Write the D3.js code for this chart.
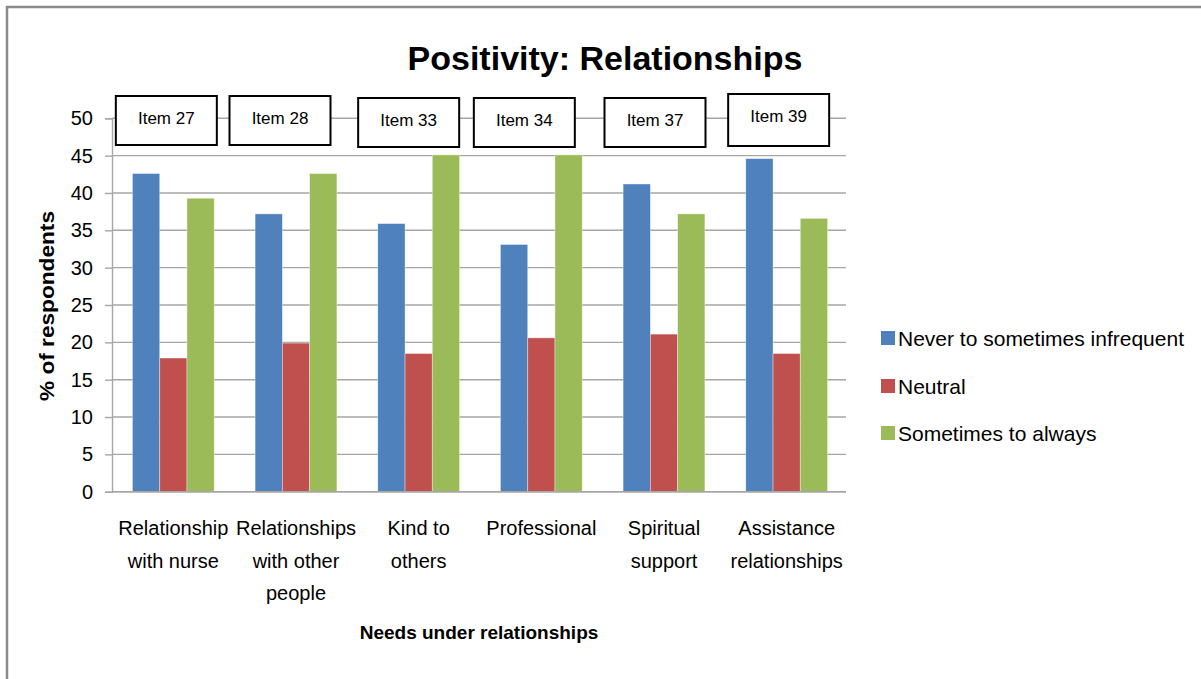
<!DOCTYPE html>
<html>
<head>
<meta charset="utf-8">
<script src="https://cdn.jsdelivr.net/npm/d3@7"></script>
<style>
  html, body { margin: 0; padding: 0; background: #fff; }
  svg { display: block; }
  text { font-family: "Liberation Sans", Arial, sans-serif; fill: #000; }
</style>
</head>
<body>
<svg id="chart" width="1201" height="679"></svg>
<script>
// ---------------- DATA ----------------
const categories = [
  "Relationship with nurse",
  "Relationships with other people",
  "Kind to others",
  "Professional",
  "Spiritual support",
  "Assistance relationships"
];
const categoryLines = [
  ["Relationship", "with nurse"],
  ["Relationships", "with other", "people"],
  ["Kind to", "others"],
  ["Professional"],
  ["Spiritual", "support"],
  ["Assistance", "relationships"]
];
const seriesNames = ["Never to sometimes infrequent", "Neutral", "Sometimes to always"];
const neverValues     = [42.6, 37.2, 35.9, 33.1, 41.2, 44.6];
const neutralValues   = [17.9, 19.9, 18.5, 20.6, 21.1, 18.5];
const sometimesValues = [39.3, 42.6, 45.1, 45.1, 37.2, 36.6];
const itemLabels = ["Item 27", "Item 28", "Item 33", "Item 34", "Item 37", "Item 39"];
const yTicks = [0, 5, 10, 15, 20, 25, 30, 35, 40, 45, 50];
const titleText = "Positivity: Relationships";
const yTitle = "% of respondents";
const xTitle = "Needs under relationships";

// ---------------- LAYOUT / STYLE ----------------
const colors = ["#4F81BD", "#C0504D", "#9BBB59"];
const plot = { left: 112, right: 848, top: 118.3, bottom: 491.7 };
const itemBoxDx  = [-7, -16, -10, -17, -9, -8];
const itemBoxTop = [96, 96, 98, 98, 98, 94];
const itemBoxH   = [49, 49, 49, 49, 49, 52];
const itemBoxW = 101;

const svg = d3.select("#chart");
svg.append("rect").attr("width", 1201).attr("height", 679).attr("fill", "#fff");

// outer border (top and left visible)
svg.append("path")
  .attr("d", "M7,679 L7,7 L1201,7")
  .attr("fill", "none").attr("stroke", "#8a8a8a").attr("stroke-width", 2.5);

const x0 = d3.scaleBand().domain(categories).range([plot.left, plot.right]).paddingInner(0).paddingOuter(0);
const bw = x0.bandwidth() / 4.5;
const x1 = d3.scaleBand().domain(seriesNames).range([0, bw * 3]).padding(0);
const groupOffset = (x0.bandwidth() - bw * 3) / 2;
const y = d3.scaleLinear().domain([0, 50]).range([plot.bottom, plot.top]);

// gridlines
svg.append("g").selectAll("line").data(yTicks).join("line")
  .attr("x1", plot.left).attr("x2", plot.right - 2)
  .attr("y1", d => y(d)).attr("y2", d => y(d))
  .attr("stroke", "#a6a6a6").attr("stroke-width", 1.4);

// y axis
const yAxis = d3.axisLeft(y).tickValues(yTicks).tickSize(7).tickPadding(12).tickFormat(d3.format("d"));
const gy = svg.append("g").attr("transform", `translate(${plot.left},0)`).call(yAxis);
gy.select(".domain").attr("stroke", "#a6a6a6").attr("stroke-width", 1.4);
gy.selectAll(".tick line").attr("stroke", "#a6a6a6").attr("stroke-width", 1.4);
gy.selectAll(".tick text").attr("font-size", 20).attr("font-family", "Liberation Sans, Arial, sans-serif").attr("fill", "#000");

// bars
const seriesValues = [neverValues, neutralValues, sometimesValues];
const barData = [];
categories.forEach((c, i) => {
  seriesNames.forEach((s, j) => {
    barData.push({ cat: c, series: s, value: seriesValues[j][i], color: colors[j] });
  });
});
svg.append("g").selectAll("rect").data(barData).join("rect")
  .attr("x", d => x0(d.cat) + groupOffset + x1(d.series))
  .attr("width", x1.bandwidth())
  .attr("y", d => y(d.value))
  .attr("height", d => y(0) - y(d.value))
  .attr("fill", d => d.color)
  .attr("stroke", "rgba(255,255,255,0.45)").attr("stroke-width", 0.8);

// redraw zero line on top
svg.append("line").attr("x1", plot.left).attr("x2", plot.right - 2)
  .attr("y1", y(0)).attr("y2", y(0)).attr("stroke", "#a6a6a6").attr("stroke-width", 1.4);

// category labels
const catG = svg.append("g");
categories.forEach((c, i) => {
  const cx = x0(c) + x0.bandwidth() / 2;
  const t = catG.append("text").attr("text-anchor", "middle").attr("font-size", 20);
  categoryLines[i].forEach((ln, k) => {
    t.append("tspan").attr("x", cx).attr("y", 535 + k * 32.5).text(ln);
  });
});

// item boxes
const boxG = svg.append("g");
categories.forEach((c, i) => {
  const cx = x0(c) + x0.bandwidth() / 2 + itemBoxDx[i];
  boxG.append("rect")
    .attr("x", cx - itemBoxW / 2).attr("y", itemBoxTop[i])
    .attr("width", itemBoxW).attr("height", itemBoxH[i])
    .attr("fill", "#fff").attr("stroke", "#000").attr("stroke-width", 2);
  boxG.append("text").attr("x", cx).attr("y", itemBoxTop[i] + 28)
    .attr("text-anchor", "middle").attr("font-size", 17).text(itemLabels[i]);
});

// title
svg.append("text").attr("x", 605).attr("y", 70).attr("text-anchor", "middle")
  .attr("font-size", 34).attr("font-weight", "bold").text(titleText);

// y title
svg.append("text").attr("transform", "translate(54,306) rotate(-90)")
  .attr("text-anchor", "middle").attr("font-size", 20).attr("font-weight", "bold")
  .attr("textLength", 190).attr("lengthAdjust", "spacingAndGlyphs").text(yTitle);

// x title
svg.append("text").attr("x", 479).attr("y", 639).attr("text-anchor", "middle")
  .attr("font-size", 19).attr("font-weight", "bold").text(xTitle);

// legend
const legend = svg.append("g");
const legendY = [338, 386, 433];
seriesNames.forEach((s, j) => {
  legend.append("rect").attr("x", 881).attr("y", legendY[j] - 7).attr("width", 14).attr("height", 14).attr("fill", colors[j]);
  legend.append("text").attr("x", 898).attr("y", legendY[j] + 7.5).attr("font-size", 21).text(s);
});
</script>
</body>
</html>
